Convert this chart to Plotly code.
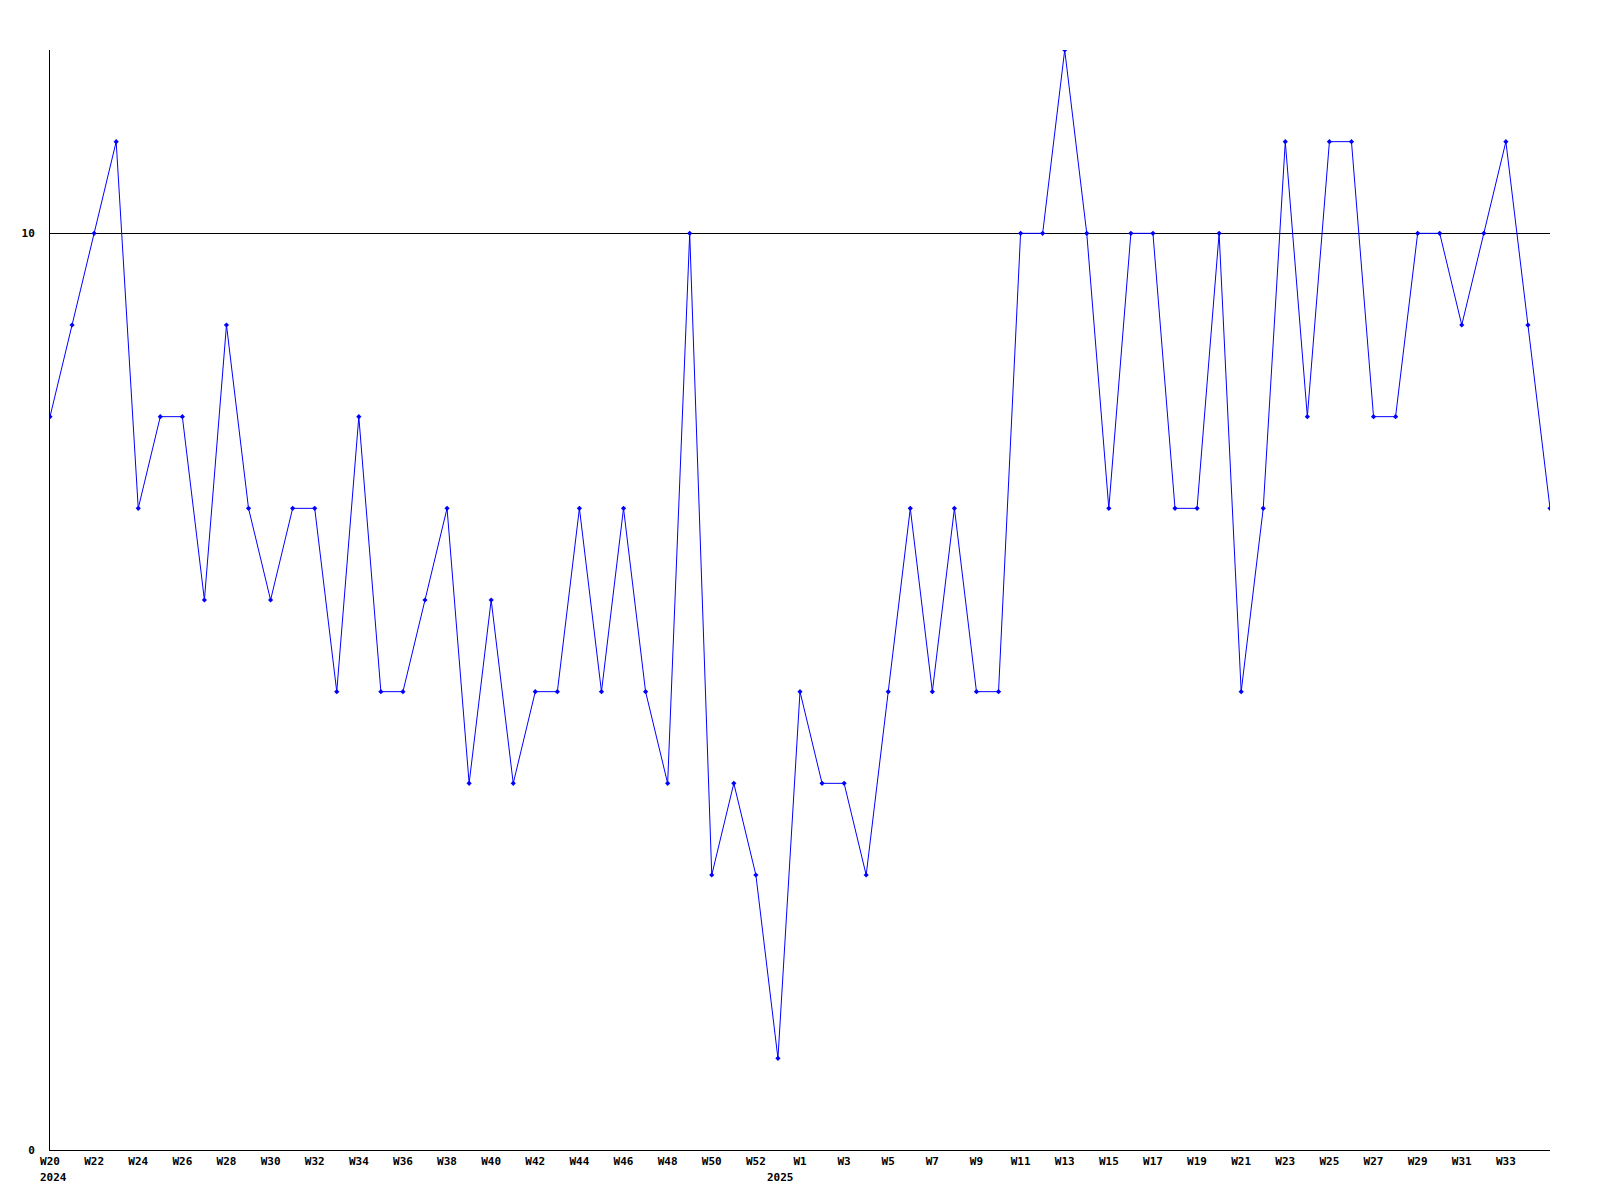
import plotly.graph_objects as go

weeks_2024 = [f"W{w}" for w in range(20, 53)]
weeks_2025 = [f"W{w}" for w in range(0, 36)]
week_labels = weeks_2024 + weeks_2025
years = ["2024"] * len(weeks_2024) + ["2025"] * len(weeks_2025)
categories = [f"{y}-{w}" for y, w in zip(years, week_labels)]

values = [8, 9, 10, 11, 7, 8, 8, 6, 9, 7, 6, 7, 7, 5, 8, 5, 5, 6, 7, 4,
          6, 4, 5, 5, 7, 5, 7, 5, 4, 10, 3, 4, 3, 1, 5, 4, 4, 3, 5, 7,
          5, 7, 5, 5, 10, 10, 12, 10, 7, 10, 10, 7, 7, 10, 5, 7, 11, 8, 11, 11,
          8, 8, 10, 10, 9, 10, 11, 9, 7]

y_ticks = [0, 10]
y_range = [0, 12]

font_family = "DejaVu Sans Mono"

fig = go.Figure()
fig.add_trace(go.Scatter(
    x=categories, y=values, mode="lines+markers",
    line=dict(color="#0000ff", width=1),
    marker=dict(symbol="diamond", size=4, color="#0000ff"),
    showlegend=False, hoverinfo="x+y",
))

# labels every other week; the final (edge) label is omitted as in the reference
tickvals = categories[:-2:2]
ticktext = week_labels[:-2:2]

annotations = []
seen = set()
for c, y in zip(categories, years):
    if y not in seen:
        seen.add(y)
        annotations.append(dict(
            x=c, y=0, xref="x", yref="paper", text=y, showarrow=False,
            yshift=-19, xshift=3, yanchor="top",
            font=dict(family=font_family, size=11, color="black", weight="bold"),
        ))

fig.update_layout(
    width=1600, height=1200,
    margin=dict(l=42, r=58, t=42, b=58, pad=0),
    paper_bgcolor="white", plot_bgcolor="white",
    annotations=annotations,
    xaxis=dict(
        type="category", categoryorder="array", categoryarray=categories,
        range=[0, len(categories) - 1],
        tickvals=tickvals, ticktext=ticktext, tickangle=0,
        showline=True, linecolor="black", linewidth=1,
        showgrid=False, zeroline=False, ticks="", ticklabelstandoff=1,
        tickfont=dict(family=font_family, size=11, color="black", weight="bold"),
    ),
    yaxis=dict(
        range=y_range, tickvals=y_ticks, ticktext=[str(t) for t in y_ticks],
        showline=True, linecolor="black", linewidth=1,
        showgrid=True, gridcolor="black", gridwidth=1, zeroline=False,
        ticks="", ticklabelstandoff=12,
        tickfont=dict(family=font_family, size=11, color="black", weight="bold"),
    ),
)

fig.write_html("out.html")
